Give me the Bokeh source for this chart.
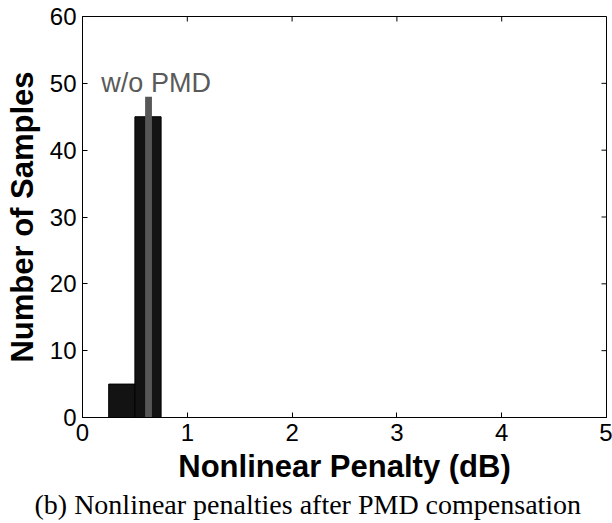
from bokeh.plotting import figure
from bokeh.models import Range1d, FixedTicker, Label, Title
from bokeh.embed import file_html
from bokeh.resources import INLINE

# Histogram data (Nonlinear penalty after PMD compensation)
bin_left = [0.25, 0.5]
bin_right = [0.5, 0.75]
counts = [5, 45]

# Reference (w/o PMD) marker
ref_penalty = [0.63]
ref_count = [48]
ref_label = "w/o PMD"
ref_label_pos = (0.18, 50)

x_ticks = [0, 1, 2, 3, 4, 5]
y_ticks = [0, 10, 20, 30, 40, 50, 60]

caption = "(b) Nonlinear penalties after PMD compensation"

W, H = 612, 523
X_MAX, Y_MAX = 5, 60
p = figure(width=W, height=H, output_backend="svg", toolbar_location=None,
           x_range=Range1d(0, X_MAX), y_range=Range1d(0, Y_MAX),
           min_border_left=82, min_border_right=6, min_border_top=16,
           min_border_bottom=106, margin=(0, 0, 0, 0))
p.background_fill_color = "white"
p.border_fill_color = "white"
p.grid.visible = False
p.outline_line_color = "black"
p.outline_line_width = 1

p.quad(left=bin_left, right=bin_right, bottom=0, top=counts,
       fill_color="#131313", line_color="#000000", line_width=1)
p.vbar(x=ref_penalty, width=0.065, bottom=0, top=ref_count,
       fill_color="#575757", line_color=None)

# mirrored inward ticks on the top and right edges of the box
tick_len_y = 5 * Y_MAX / 401.0
tick_len_x = 5 * X_MAX / 524.0
p.segment(x0=x_ticks, x1=x_ticks, y0=[Y_MAX] * len(x_ticks),
          y1=[Y_MAX - tick_len_y] * len(x_ticks), line_color="black", line_width=1)
p.segment(x0=[X_MAX] * len(y_ticks), x1=[X_MAX - tick_len_x] * len(y_ticks),
          y0=y_ticks, y1=y_ticks, line_color="black", line_width=1)

p.add_layout(Label(x=ref_label_pos[0], y=ref_label_pos[1], text=ref_label,
                   text_font="Liberation Sans", text_font_size="27px",
                   text_color="#5a5a5a", text_baseline="alphabetic"))

font = "Liberation Sans"
for ax in (p.xaxis[0], p.yaxis[0]):
    ax.major_tick_in = 5
    ax.major_tick_out = 0
    ax.minor_tick_in = 0
    ax.minor_tick_out = 0
    ax.axis_line_color = "black"
    ax.major_tick_line_color = "black"
    ax.major_label_text_font = font
    ax.major_label_text_font_size = "24px"
    ax.major_label_text_color = "black"
    ax.axis_label_text_font = font
    ax.axis_label_text_font_size = "31px"
    ax.axis_label_text_font_style = "bold"
    ax.axis_label_text_color = "black"

p.xaxis[0].ticker = FixedTicker(ticks=x_ticks)
p.yaxis[0].ticker = FixedTicker(ticks=y_ticks)
p.xaxis[0].axis_label = "Nonlinear Penalty (dB)"
p.yaxis[0].axis_label = "Number of Samples"
p.xaxis[0].major_label_standoff = 6
p.xaxis[0].axis_label_standoff = 5
p.yaxis[0].major_label_standoff = 6
p.yaxis[0].axis_label_standoff = 7

cap = Title(text=caption, align="left", offset=-48, text_font="Liberation Serif",
            text_font_size="28px", text_font_style="normal", text_color="black",
            standoff=0)
p.add_layout(cap, "below")

open("out.html", "w").write(file_html(p, INLINE))
